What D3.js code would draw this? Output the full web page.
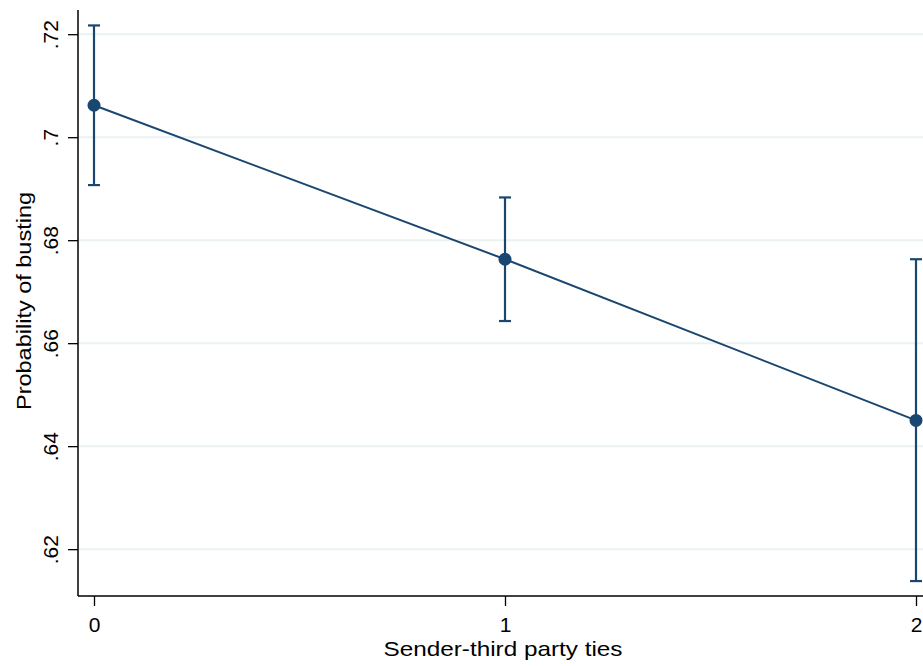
<!DOCTYPE html>
<html>
<head>
<meta charset="utf-8">
<script src="https://cdn.jsdelivr.net/npm/d3@7"></script>
<style>
  html, body { margin: 0; padding: 0; background: #fff; }
  svg { display: block; font-family: "Liberation Sans", Arial, sans-serif; }
</style>
</head>
<body>
<svg id="chart" width="923" height="666"></svg>
<script>
// Predicted probability of busting by number of sender-third party ties
const ties = [0, 1, 2];
const estimate = [0.7062, 0.6763, 0.6450];
const ciLower = [0.6907, 0.6643, 0.6138];
const ciUpper = [0.7217, 0.6883, 0.6763];
const yTicks = [0.62, 0.64, 0.66, 0.68, 0.70, 0.72];
const yTickLabels = [".62", ".64", ".66", ".68", ".7", ".72"];
const xTicks = [0, 1, 2];

const navy = "#1a476f";
const svg = d3.select("#chart");

const margin = { left: 78, right: 7, top: 10, bottom: 70 };
const W = 923, H = 666;

const x = d3.scaleLinear().domain([0, 2]).range([94, 916]);
const y = d3.scaleLinear().domain([0.6109, 0.7247]).range([H - margin.bottom, margin.top]);

// grid lines
svg.append("g").selectAll("line").data(yTicks).join("line")
  .attr("x1", margin.left).attr("x2", W)
  .attr("y1", d => y(d)).attr("y2", d => y(d))
  .attr("stroke", "#eaf2f3").attr("stroke-width", 2);

// y axis
const yAxis = d3.axisLeft(y).tickValues(yTicks)
  .tickFormat((d, i) => yTickLabels[i]).tickSize(10).tickSizeOuter(0);
const gy = svg.append("g").attr("transform", `translate(${margin.left},0)`).call(yAxis);
gy.select(".domain").attr("stroke", "#000").attr("stroke-width", 1.5)
  .attr("d", `M0,${margin.top}V${H - margin.bottom}`);
gy.selectAll(".tick line").attr("stroke", "#000").attr("stroke-width", 1.3);
gy.selectAll(".tick text")
  .attr("font-size", 21).attr("fill", "#000")
  .attr("transform", "rotate(-90)")
  .attr("x", 0).attr("y", -20)
  .attr("dy", 0)
  .attr("text-anchor", "middle");

// x axis
const xAxis = d3.axisBottom(x).tickValues(xTicks).tickFormat(d3.format("d")).tickSize(10).tickSizeOuter(0);
const gx = svg.append("g").attr("transform", `translate(0,${H - margin.bottom})`).call(xAxis);
gx.select(".domain").attr("stroke", "#000").attr("stroke-width", 1.5)
  .attr("d", `M${margin.left},0H${W}`);
gx.selectAll(".tick line").attr("stroke", "#000").attr("stroke-width", 1.3);
gx.selectAll(".tick text").attr("font-size", 21).attr("fill", "#000").attr("y", 21).attr("dy", "0.71em");

// axis titles
svg.append("text")
  .attr("x", 503).attr("y", 656)
  .attr("text-anchor", "middle").attr("font-size", 21).attr("fill", "#000")
  .attr("textLength", 239).attr("lengthAdjust", "spacingAndGlyphs")
  .text("Sender-third party ties");
svg.append("text")
  .attr("transform", `translate(31,301) rotate(-90)`)
  .attr("text-anchor", "middle").attr("font-size", 21).attr("fill", "#000")
  .attr("textLength", 218).attr("lengthAdjust", "spacingAndGlyphs")
  .text("Probability of busting");

const data = ties.map((t, i) => ({ t, est: estimate[i], lo: ciLower[i], hi: ciUpper[i] }));

// confidence intervals
const ci = svg.append("g").attr("stroke", navy).attr("stroke-width", 2.2).attr("fill", "none");
ci.selectAll(".bar").data(data).join("line")
  .attr("x1", d => x(d.t)).attr("x2", d => x(d.t))
  .attr("y1", d => y(d.lo)).attr("y2", d => y(d.hi));
ci.selectAll(".capHi").data(data).join("line")
  .attr("x1", d => x(d.t) - 6).attr("x2", d => x(d.t) + 6)
  .attr("y1", d => y(d.hi)).attr("y2", d => y(d.hi));
ci.selectAll(".capLo").data(data).join("line")
  .attr("x1", d => x(d.t) - 6).attr("x2", d => x(d.t) + 6)
  .attr("y1", d => y(d.lo)).attr("y2", d => y(d.lo));

// estimate line
svg.append("path").datum(data)
  .attr("fill", "none").attr("stroke", navy).attr("stroke-width", 2)
  .attr("d", d3.line().x(d => x(d.t)).y(d => y(d.est)));

// markers
svg.append("g").selectAll("circle").data(data).join("circle")
  .attr("cx", d => x(d.t)).attr("cy", d => y(d.est)).attr("r", 6.5)
  .attr("fill", navy);
</script>
</body>
</html>
